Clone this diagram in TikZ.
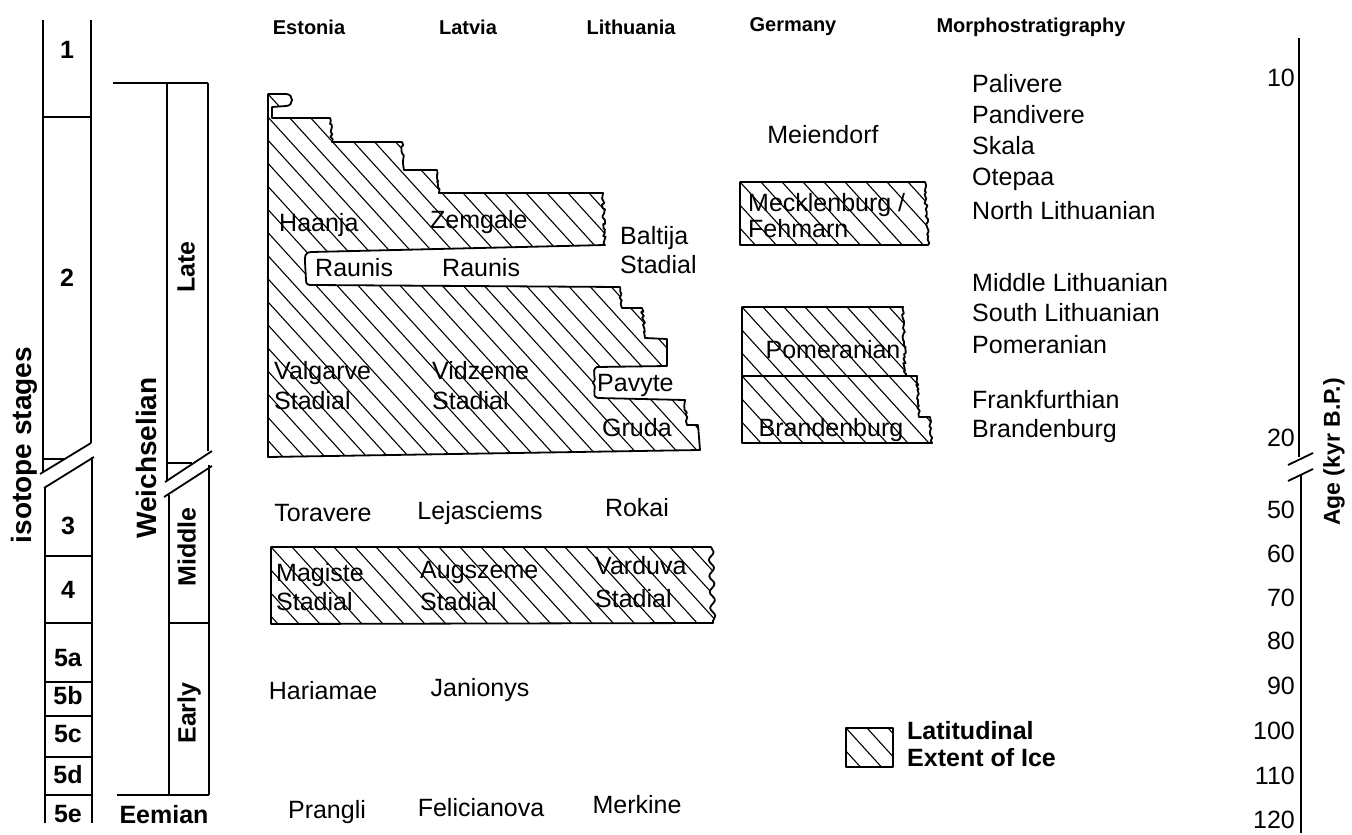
\documentclass[tikz,border=0pt]{standalone}
\usepackage{fontspec}
\setmainfont{Liberation Sans}
\usetikzlibrary{decorations.pathmorphing,calc}
\begin{document}
\begin{tikzpicture}[x=1pt,y=-1pt,
  ln/.style={line width=1.8pt},
  hd/.style={font=\fontsize{20}{22}\selectfont\bfseries, inner sep=0pt},
  tx/.style={font=\fontsize{25}{28}\selectfont, inner sep=0pt, text height=18pt, text depth=5pt},
  bx/.style={font=\fontsize{25}{28}\selectfont\bfseries, inner sep=0pt, text height=18pt, text depth=5pt},
  rot/.style={font=\fontsize{28}{30}\selectfont\bfseries, inner sep=0pt, rotate=90},
  rag/.style={decoration={random steps,segment length=2.5pt,amplitude=1.5pt}},
  wav/.style={decoration={snake,amplitude=2.5pt,segment length=16pt}},
  hatched/.style={draw, line width=1.8pt, line join=round,
    path picture={\foreach \k in {-22,...,26}{
      \draw[line width=1.1pt] ([xshift=\k*21pt]path picture bounding box.north west) -- ++(600,660);}}}
]
\useasboundingbox (0,0) rectangle (1352,835);

% ---------- isotope stages column ----------
\draw[ln] (43,20) -- (43,472);
\draw[ln] (91,20) -- (91,443);
\draw[ln] (43,117) -- (91,117);
\draw[ln] (43,459) -- (64,459);
\draw[ln] (40,474) -- (91,443);
\draw[ln] (44,488) -- (94,457);
\draw[ln] (45,487) -- (45,823);
\draw[ln] (92,457) -- (92,823);
\foreach \yy in {556,623,682,716,757,795} \draw[ln] (45,\yy) -- (92,\yy);
\node[bx] (s1) at (67,52) {1};
\node[bx] (s2) at (67,280) {2};
\node[bx] (s3) at (68,528) {3};
\node[bx] (s4) at (68,592) {4};
\node[bx] (s5a) at (68,660) {5a};
\node[bx] (s5b) at (68,698) {5b};
\node[bx] (s5c) at (68,736) {5c};
\node[bx] (s5d) at (68,777) {5d};
\node[bx] (s5e) at (68,816) {5e};
\node[rot] (iso) at (24,445) {isotope stages};

% ---------- Weichselian column ----------
\draw[ln] (113,83) -- (208,83);
\draw[ln] (167,83) -- (167,480);
\draw[ln] (208,83) -- (208,451);
\draw[ln] (167,463) -- (192,463);
\draw[ln] (165,482) -- (212,451);
\draw[ln] (164,497) -- (212,466);
\draw[ln] (169,495) -- (169,795);
\draw[ln] (209,465) -- (209,795);
\draw[ln] (169,623) -- (209,623);
\draw[ln] (117,795) -- (209,795);
\node[rot] (wei) at (146,458) {Weichselian};
\node[bx, rotate=90] (late) at (188,267) {Late};
\node[bx, rotate=90] (mid) at (189,547) {Middle};
\node[bx, rotate=90] (early) at (189,713) {Early};
\node[bx] (eem) at (164,817) {Eemian};

% ---------- headers ----------
\node[hd] (hE) at (309,27) {Estonia};
\node[hd] (hL) at (468,27) {Latvia};
\node[hd] (hLi) at (631,27) {Lithuania};
\node[hd] (hG) at (793,27) {Germany};
\node[hd] (hM) at (1031,27) {Morphostratigraphy};

% ---------- main late ice block ----------
\draw[hatched] (268,94) -- (286,94) .. controls (294,94) and (294,106) .. (286,106)
  -- (272,107) -- (272,118) -- (330,118) decorate[rag]{-- (332,142)}
  -- (402,142) decorate[rag]{-- (404,170)}
  -- (437,170) decorate[rag]{-- (439,193)}
  -- (603,193) decorate[rag]{-- (605,245)}
  -- (312,252) .. controls (304,252) and (305,257) .. (305,262)
  -- (306,280) .. controls (306,285) and (308,285) .. (313,285)
  -- (620,287) decorate[rag]{-- (622,308)}
  -- (642,308) decorate[rag]{-- (645,338)}
  -- (667,339) -- (667,366)
  -- (597,367) .. controls (590,370) and (598,380) .. (593,383)
  .. controls (598,388) and (590,396) .. (598,398)
  -- (685,400) decorate[rag]{-- (687,425)}
  -- (698,425) -- (700,450) -- (268,457) -- cycle;

\node[tx, anchor=west] (haanja) at (279,225) {Haanja};
\node[tx, anchor=west] (zemgale) at (430,222) {Zemgale};
\node[tx, anchor=west] (raunis1) at (315,270) {Raunis};
\node[tx, anchor=west] (raunis2) at (442,270) {Raunis};
\node[tx, anchor=west] (baltija) at (620,238) {Baltija};
\node[tx, anchor=west] (baltijas) at (620,267) {Stadial};
\node[tx, anchor=west] (valg) at (274,373) {Valgarve};
\node[tx, anchor=west] (valgs) at (274,403) {Stadial};
\node[tx, anchor=west] (vidz) at (432,373) {Vidzeme};
\node[tx, anchor=west] (vidzs) at (432,403) {Stadial};
\node[tx, anchor=west] (pavyte) at (597,385) {Pavyte};
\node[tx, anchor=west] (gruda) at (602,430) {Gruda};

% ---------- Germany blocks ----------
\node[tx] (meiendorf) at (823,137) {Meiendorf};
\draw[hatched] (740,182) -- (925,182) decorate[rag]{-- (928,245)} -- (740,245) -- cycle;
\node[tx, anchor=west] (meck) at (748,205) {Mecklenburg /};
\node[tx, anchor=west] (fehm) at (748,231) {Fehmarn};
\draw[hatched] (742,307) -- (903,307) decorate[rag]{-- (905,376)} -- (742,376) -- cycle;
\draw[hatched] (742,376) -- (917,376) decorate[rag]{-- (919,417)} -- (930,417) decorate[rag]{-- (932,443)} -- (742,443) -- cycle;
\node[tx] (pomG) at (833,352) {Pomeranian};
\node[tx] (brandG) at (831,430) {Brandenburg};

% ---------- middle Weichselian ----------
\node[tx] (torav) at (323,515) {Toravere};
\node[tx] (lejas) at (480,513) {Lejasciems};
\node[tx] (rokai) at (637,510) {Rokai};
\draw[hatched] (271,547) -- (711,547) decorate[wav]{-- (713,623)} -- (271,624) -- cycle;
\node[tx, anchor=west] (mag) at (276,575) {Magiste};
\node[tx, anchor=west] (mags) at (276,604) {Stadial};
\node[tx, anchor=west] (aug) at (420,572) {Augszeme};
\node[tx, anchor=west] (augs) at (420,604) {Stadial};
\node[tx, anchor=west] (vard) at (595,568) {Varduva};
\node[tx, anchor=west] (vards) at (595,601) {Stadial};

% ---------- early ----------
\node[tx] (hari) at (323,693) {Hariamae};
\node[tx] (jan) at (480,690) {Janionys};
\node[tx] (prang) at (327,812) {Prangli};
\node[tx] (felic) at (481,810) {Felicianova};
\node[tx] (merk) at (637,807) {Merkine};

% ---------- morphostratigraphy ----------
\node[tx, anchor=west] (m1) at (972,86) {Palivere};
\node[tx, anchor=west] (m2) at (972,117) {Pandivere};
\node[tx, anchor=west] (m3) at (972,148) {Skala};
\node[tx, anchor=west] (m4) at (972,179) {Otepaa};
\node[tx, anchor=west] (m5) at (972,213) {North Lithuanian};
\node[tx, anchor=west] (m6) at (972,285) {Middle Lithuanian};
\node[tx, anchor=west] (m7) at (972,315) {South Lithuanian};
\node[tx, anchor=west] (m8) at (972,347) {Pomeranian};
\node[tx, anchor=west] (m9) at (972,402) {Frankfurthian};
\node[tx, anchor=west] (m10) at (972,431) {Brandenburg};

% ---------- legend ----------
\draw[hatched] (846,728) rectangle (893,767);
\node[bx, anchor=west] (leg1) at (907,733) {Latitudinal};
\node[bx, anchor=west] (leg2) at (907,760) {Extent of Ice};

% ---------- age axis ----------
\draw[ln] (1299,38) -- (1299,457);
\draw[ln] (1288,465) -- (1313,453);
\draw[ln] (1288,481) -- (1313,469);
\draw[ln] (1301,475) -- (1301,833);
\node[tx, anchor=east] (a10) at (1295,80) {10};
\node[tx, anchor=east] (a20) at (1295,440) {20};
\node[tx, anchor=east] (a50) at (1295,512) {50};
\node[tx, anchor=east] (a60) at (1295,556) {60};
\node[tx, anchor=east] (a70) at (1295,600) {70};
\node[tx, anchor=east] (a80) at (1295,643) {80};
\node[tx, anchor=east] (a90) at (1295,688) {90};
\node[tx, anchor=east] (a100) at (1295,733) {100};
\node[tx, anchor=east] (a110) at (1295,778) {110};
\node[tx, anchor=east] (a120) at (1295,822) {120};
\node[font=\fontsize{23}{25}\selectfont\bfseries, inner sep=0pt, rotate=90] (age) at (1334,452) {Age (kyr B.P.)};
\end{tikzpicture}
\end{document}
